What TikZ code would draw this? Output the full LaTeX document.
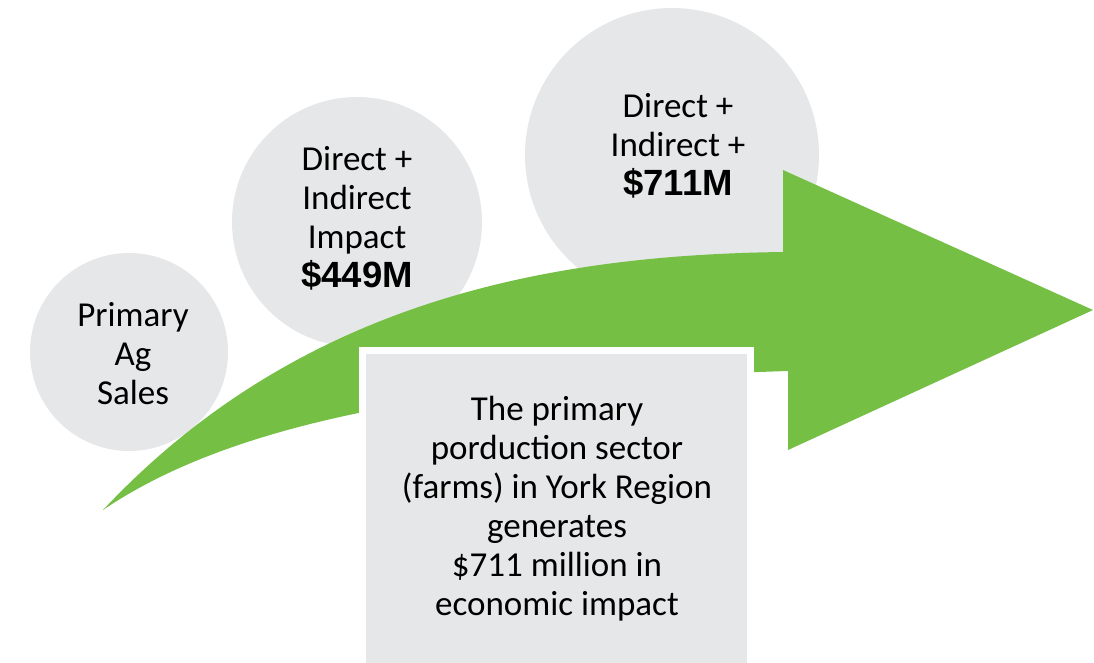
\documentclass[tikz,border=0pt]{standalone}
\usepackage{fontspec}
\setmainfont{Carlito}
\newfontfamily\numfont{Liberation Sans}
\definecolor{circgray}{HTML}{E6E7E8}
\definecolor{arrgreen}{HTML}{74BF44}
\tikzset{
  bubble/.style={circle, fill=circgray, inner sep=0pt},
  lbl/.style={align=center, font=\fontsize{35}{39}\selectfont, text=black, inner sep=0pt},
}
\newcommand{\bignum}[1]{{\numfont\bfseries\fontsize{36.5}{39}\selectfont #1}}
\begin{document}
\begin{tikzpicture}[x=1pt,y=-1pt]
\useasboundingbox (0,0) rectangle (1094,662);
\node[bubble, minimum size=198pt] (c1) at (129,352) {};
\node[bubble, minimum size=250pt] (c2) at (357,222) {};
\node[bubble, minimum size=294pt] (c3) at (672,155) {};
\fill[arrgreen] (103,510) .. controls (300,300) and (550,255) .. (783,252)
  -- (783,170) -- (1093,310) -- (788,450) -- (788,371)
  .. controls (500,380) and (250,410) .. (103,510) -- cycle;
\draw[white, line width=7pt, fill=circgray] (362.5,350.5) rectangle (750.5,672);
\node[lbl] (t1) at (133,354) {Primary\\Ag\\Sales};
\node[lbl] (t2) at (357,218) {Direct +\\Indirect\\Impact\\\bignum{\$449M}};
\node[lbl] (t3) at (678,146) {Direct +\\Indirect +\\\bignum{\$711M}};
\node[lbl] (t4) at (557,509) {The primary\\porduction sector\\(farms) in York Region\\generates\\\$711 million in\\economic impact};
\end{tikzpicture}
\end{document}
